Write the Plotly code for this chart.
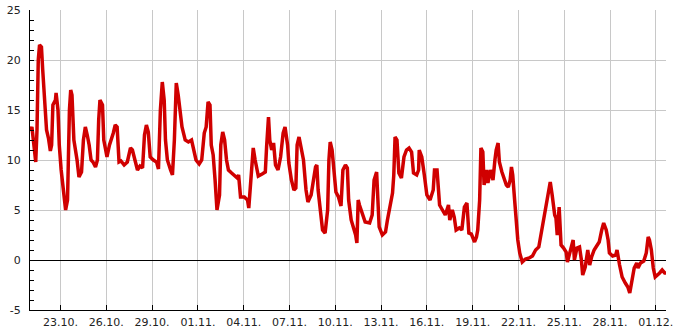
import plotly.graph_objects as go
import pandas as pd

start = "2023-10-21 00:00"
end = "2023-12-01 16:00"

# hours since start of series
hours = [0, 3, 7, 9, 11, 13, 15, 18, 20, 22, 24, 26, 29, 32, 34, 36, 40, 41, 44, 46,
         49, 51, 54, 56, 59, 60, 62, 64, 66, 69, 72, 74, 77, 81, 84, 87, 90, 93, 96, 99,
         103, 106, 108, 110, 114, 116, 119, 121, 125, 128, 131, 134, 137, 140, 143, 148, 153, 158, 161, 165,
         169, 173, 177, 180, 183, 186, 189, 194, 199, 202, 205, 208, 211, 213, 216, 221, 224, 227, 230, 233,
         236, 239, 244, 249, 254, 257, 261, 266, 270, 274, 277, 280, 283, 285, 288, 291, 294, 298, 300, 303,
         306, 309, 312, 317, 321, 326, 328, 331, 337, 342, 344, 348, 351, 354, 359, 365, 370, 372, 375, 377,
         380, 383, 386, 390, 394, 398, 401, 405, 407, 411, 415, 418, 420, 423, 427, 430, 434, 437, 442, 446,
         449, 451, 453, 457, 460, 464, 468, 470, 472, 475, 478, 481, 485, 489, 492, 496, 499, 501, 505, 508,
         512, 514, 516, 518, 523, 527, 534, 538, 541, 545, 547, 549, 554, 559, 562, 565, 570, 572, 574, 577,
         580, 584, 588, 592, 596, 600, 603, 608, 611, 612, 616, 620, 624, 629, 634, 636, 640, 644, 648, 653,
         658, 660, 664, 667, 670, 675, 679, 683, 687, 690, 694, 699, 702, 704, 707, 709, 712, 714, 718, 720,
         724, 728, 731, 733, 736, 738, 742, 746, 749, 752, 755, 757, 759, 762, 765, 767, 770, 774, 779, 785,
         790, 795, 800, 804, 808, 812, 815, 818, 821, 825, 827, 829, 832, 835, 839, 843, 845, 848, 851, 854,
         856, 860, 864, 867, 869, 873, 877, 880, 883, 887, 891, 895, 899, 902, 906, 909, 911, 916, 921, 923,
         927, 931, 936, 940, 943, 947, 950, 954, 956, 960, 965, 969, 972, 974, 977, 980, 983, 990, 994, 998,
         1000]

# temperature (°C)
temps = [12.9, 13.3, 11.0, 9.8, 13.0, 20.0, 21.5, 21.3, 19.0, 17.0, 14.5, 13.0, 12.2, 10.9, 11.5, 15.5, 16.0, 16.7, 15.0, 11.5,
         9.0, 7.8, 6.5, 5.0, 6.0, 10.0, 15.0, 17.0, 16.5, 12.0, 11.0, 10.0, 8.3, 8.8, 12.0, 13.3, 12.5, 11.5, 10.0, 9.8,
         9.3, 10.0, 14.0, 16.0, 15.5, 12.0, 11.0, 10.3, 11.5, 12.0, 12.7, 13.5, 13.3, 9.8, 9.9, 9.5, 9.8, 11.2, 11.0, 10.0,
         9.0, 9.4, 9.2, 12.5, 13.5, 12.8, 10.3, 10.0, 9.8, 9.1, 15.0, 17.8, 16.0, 12.0, 10.0, 9.0, 8.5, 12.0, 17.7, 16.5,
         14.5, 13.3, 12.0, 11.8, 12.0, 11.0, 10.0, 9.6, 10.0, 12.7, 13.3, 15.8, 15.5, 11.5, 10.5, 8.0, 5.0, 6.5, 11.5, 12.8,
         12.0, 10.0, 9.0, 8.7, 8.5, 8.2, 8.5, 6.3, 6.3, 6.0, 5.2, 8.5, 11.2, 10.0, 8.4, 8.6, 8.8, 11.3, 14.3, 12.0,
         11.0, 11.7, 9.5, 9.0, 10.3, 12.7, 13.3, 11.5, 9.7, 8.0, 7.0, 7.2, 11.5, 12.3, 11.0, 10.0, 7.0, 5.8, 6.5, 8.5,
         9.3, 9.5, 7.0, 4.7, 3.0, 2.7, 5.0, 10.0, 11.8, 11.0, 9.0, 6.8, 6.3, 5.4, 9.0, 9.5, 9.2, 6.0, 4.0, 3.3,
         2.5, 1.7, 6.0, 5.5, 4.5, 3.8, 3.7, 4.5, 8.0, 8.8, 6.0, 3.3, 2.5, 2.8, 4.0, 5.0, 6.7, 8.5, 12.3, 12.0,
         8.7, 8.2, 10.3, 11.0, 11.2, 10.8, 8.7, 8.5, 9.0, 11.0, 10.3, 8.5, 6.5, 6.0, 7.0, 9.0, 9.0, 5.5, 5.0, 4.5,
         5.5, 4.0, 5.0, 4.3, 3.0, 3.2, 3.0, 5.3, 5.7, 2.7, 2.6, 1.8, 2.3, 3.0, 6.0, 11.2, 10.8, 7.5, 9.0, 7.7,
         9.0, 8.0, 10.0, 11.0, 11.7, 9.8, 8.8, 8.0, 7.5, 7.3, 8.0, 9.3, 8.5, 6.0, 3.5, 2.0, 0.7, -0.2, 0.1, 0.2,
         0.4, 1.0, 1.3, 2.8, 4.5, 6.0, 7.0, 7.8, 6.5, 4.5, 4.2, 2.5, 5.3, 1.5, 1.2, 0.8, -0.2, 0.5, 1.5, 2.0,
         0.0, 1.2, 1.3, 0.0, -1.5, -0.7, 1.0, -0.5, 0.3, 1.0, 1.4, 1.8, 3.0, 3.7, 3.0, 2.0, 0.7, 0.4, 0.5, 1.0,
         -0.5, -1.7, -2.3, -2.7, -3.3, -2.0, -0.8, -0.3, -0.8, -0.3, -0.1, 0.7, 2.3, 2.0, 1.0, -0.8, -1.7, -1.3, -1.0, -1.3,
         -1.3]

y_tick_values = [-5, 0, 5, 10, 15, 20, 25]
y_tick_labels = ["-5", "0", "5", "10", "15", "20", "25"]

times = pd.Timestamp(start) + pd.to_timedelta(hours, unit="h")

fig = go.Figure(go.Scatter(x=times, y=temps, mode="lines",
                           line=dict(color="#d00000", width=3.5)))

fig.update_layout(
    width=685, height=330,
    margin=dict(l=30, r=19, t=10, b=20, pad=0),
    plot_bgcolor="white", paper_bgcolor="white",
    showlegend=False,
    font=dict(family="DejaVu Sans", size=11, color="#222222"),
)

fig.update_xaxes(
    range=[start, end], automargin=False,
    tick0="2023-10-23", dtick=3 * 86400000, tickformat="%d.%m.",
    ticks="inside", ticklen=5, tickcolor="black",
    showgrid=True, gridcolor="#c8c8c8", gridwidth=1,
    showline=True, linecolor="black", linewidth=1,
    ticklabelstandoff=2,
)

fig.update_yaxes(
    range=[-5, 25], automargin=False,
    tickmode="array", tickvals=y_tick_values, ticktext=y_tick_labels,
    ticks="inside", ticklen=4, tickcolor="black",
    minor=dict(tickmode="linear", tick0=0, dtick=1, ticks="inside", ticklen=4,
               tickcolor="black", showgrid=False),
    showgrid=True, gridcolor="#c8c8c8", gridwidth=1,
    zeroline=True, zerolinecolor="black", zerolinewidth=1,
    showline=True, linecolor="black", linewidth=1,
    ticklabelstandoff=6,
)

fig.write_html("out.html")
